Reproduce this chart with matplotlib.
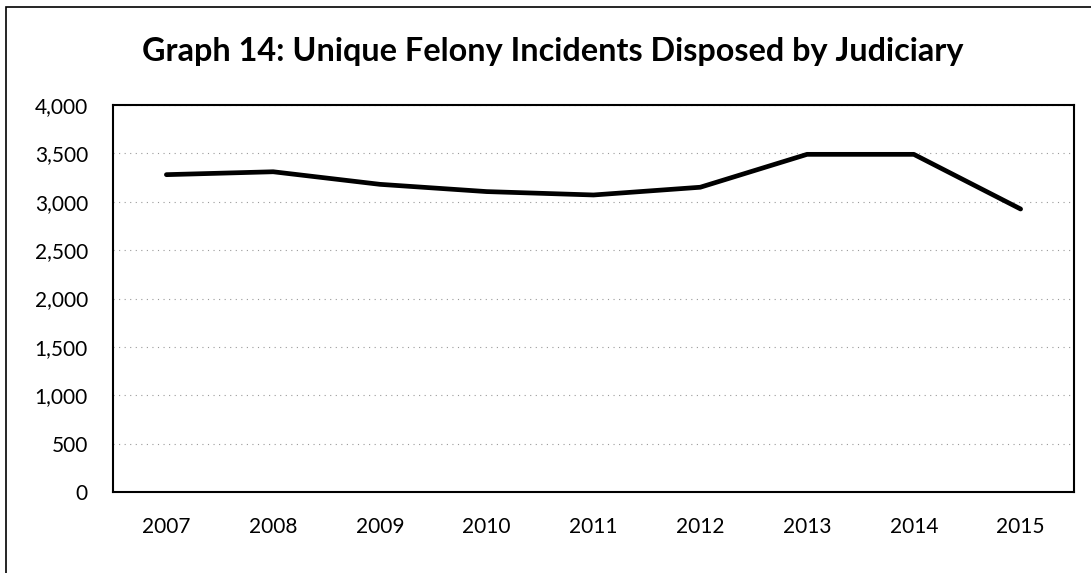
import matplotlib
matplotlib.use("Agg")
import matplotlib.pyplot as plt
from matplotlib.patches import Rectangle

years = ["2007", "2008", "2009", "2010", "2011", "2012", "2013", "2014", "2015"]
incidents = [3280, 3310, 3180, 3105, 3070, 3150, 3490, 3490, 2925]
y_ticks = [0, 500, 1000, 1500, 2000, 2500, 3000, 3500, 4000]
y_tick_labels = ["0", "500", "1,000", "1,500", "2,000", "2,500", "3,000", "3,500", "4,000"]
title = "Graph 14: Unique Felony Incidents Disposed by Judiciary"

plt.rcParams['font.family'] = ['Lato', 'DejaVu Sans']

W, H = 1091, 573
fig = plt.figure(figsize=(W / 100, H / 100), dpi=100)
ax = fig.add_axes([113 / W, 1 - 492 / H, (1074 - 113) / W, (492 - 105) / H])

x = list(range(len(years)))
ax.plot(x, incidents, color="black", linewidth=3.4, solid_capstyle="round", solid_joinstyle="round", zorder=3)

ax.set_xlim(-0.5, len(years) - 0.5)
ax.set_ylim(0, 4000)
ax.set_xticks(x)
ax.set_xticklabels(years)
ax.set_yticks(y_ticks)
ax.set_yticklabels(y_tick_labels)
ax.tick_params(axis="both", length=0, labelsize=15, colors="black")
ax.tick_params(axis="x", pad=18)
ax.tick_params(axis="y", pad=18)

ax.yaxis.grid(True, color="#9a9a9a", linestyle=(0, (1, 4)), linewidth=0.8)
ax.set_axisbelow(True)
for s in ax.spines.values():
    s.set_color("black")
    s.set_linewidth(1.5)

fig.text(553 / W, 1 - 52 / H, title, ha="center", va="center", fontsize=23.3, fontweight="bold")

frame = Rectangle((6 / W, -0.05), 1.1, 1 - 7 / H + 0.05, transform=fig.transFigure,
                  fill=False, edgecolor="black", linewidth=1.2)
fig.patches.append(frame)

fig.savefig("out.png", dpi=100)
